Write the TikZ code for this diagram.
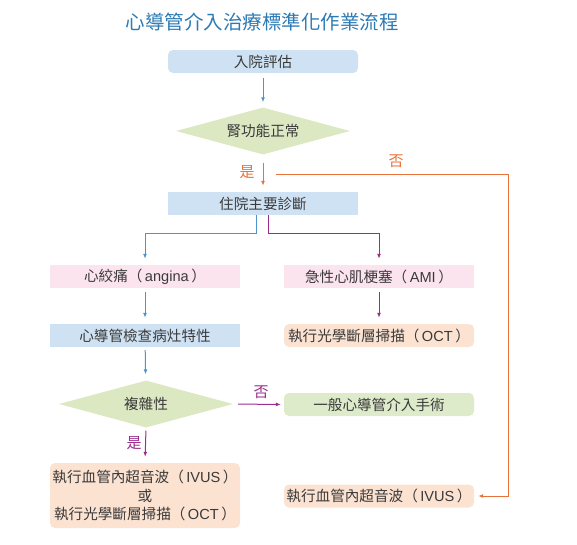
\documentclass[tikz,border=0pt]{standalone}
\usepackage{fontspec}
\setmainfont{Noto Sans CJK TC}
\newfontfamily\lat{Liberation Sans}
\newcommand{\lw}[1]{\hspace{2.5pt}{\lat #1}\hspace{2.5pt}}
\usetikzlibrary{shapes.geometric,arrows.meta}
\definecolor{titleblue}{HTML}{2B7AB4}
\definecolor{boxblue}{HTML}{CFE2F3}
\definecolor{boxpink}{HTML}{FCE4EE}
\definecolor{boxpeach}{HTML}{FBE2D1}
\definecolor{boxgreen}{HTML}{DDEBCB}
\definecolor{diagreen}{HTML}{DCE8C2}
\definecolor{lineblue}{HTML}{4C95CC}
\definecolor{lineorange}{HTML}{E8733A}
\definecolor{linepurple}{HTML}{9B2D8F}
\definecolor{txt}{HTML}{3A3A3A}
\begin{document}
\begin{tikzpicture}[x=1pt,y=-1pt,
  every node/.style={font=\fontsize{14.6}{17}\selectfont, text=txt},
  box/.style={rectangle, minimum width=190pt, minimum height=23pt, inner sep=0pt},
  rbox/.style={box, rounded corners=5pt},
  dia/.style={diamond, aspect=3.7, minimum width=174pt, minimum height=47pt, inner sep=0pt, fill=diagreen},
  conn/.style={line width=1pt, -{Latex[length=5pt,width=4pt]}},
  cb/.style={conn, draw=lineblue},
  co/.style={conn, draw=lineorange},
  cp/.style={conn, draw=linepurple},
  lbl/.style={font=\fontsize{15}{17}\selectfont}
]
\useasboundingbox (0,0) rectangle (577,544);
\node[font=\fontsize{19.5}{22}\selectfont, text=titleblue] (title) at (262,22) {心導管介入治療標準化作業流程};

\node[rbox, fill=boxblue] (eval) at (263,61.5) {入院評估};
\node[dia] (kidney) at (263,131) {腎功能正常};
\node[box, fill=boxblue] (admit) at (263,203.5) {住院主要診斷};
\node[box, fill=boxpink] (angina) at (145,276.5) {心絞痛（\lw{angina}）};
\node[box, fill=boxpink] (ami) at (379,276.5) {急性心肌梗塞（\lw{AMI}）};
\node[box, fill=boxblue] (cath) at (145,335.5) {心導管檢查病灶特性};
\node[rbox, fill=boxpeach] (oct) at (379,335.5) {執行光學斷層掃描（\lw{OCT}）};
\node[dia] (complex) at (146,404) {複雜性};
\node[rbox, fill=boxgreen] (general) at (379,404.5) {一般心導管介入手術};
\node[rbox, fill=boxpeach, minimum height=65pt, align=center, font=\fontsize{14.6}{18.5}\selectfont] (both) at (145,495.5) {執行血管內超音波（\lw{IVUS}）\\或\\執行光學斷層掃描（\lw{OCT}）};
\node[rbox, fill=boxpeach] (ivus) at (379,496) {執行血管內超音波（\lw{IVUS}）};

\draw[cb, shorten <=5pt, shorten >=5pt] (eval) -- (kidney);
\draw[co, shorten <=8pt, shorten >=6pt] (kidney) -- (admit);
\node[lbl, text=lineorange] (yes1) at (247,172) {是};
\coordinate (nostart) at (276,174);
\coordinate (nocorner) at (508,174);
\draw[co] (nostart) -- (nocorner) |- ([xshift=4pt]ivus.east);
\node[lbl, text=lineorange] (no1) at (396,161) {否};

\draw[cb, shorten >=6pt] ([xshift=-7pt]admit.south) -- ++(0,18) -| (angina.north);
\draw[cp, shorten >=6pt] ([xshift=5pt]admit.south) -- ++(0,18) -| (ami.north);

\draw[cb, shorten <=4pt, shorten >=6pt] (angina) -- (cath);
\draw[cp, shorten <=4pt, shorten >=6pt] (ami) -- (oct);
\draw[cb, shorten <=3pt, shorten >=6pt] (cath) -- (complex);

\draw[cp, shorten <=5pt, shorten >=3pt] (complex.east) -- (general.west);
\node[lbl, text=linepurple] (no2) at (261,392) {否};
\draw[cp, shorten <=3pt, shorten >=6pt] (complex.south) -- (both.north);
\node[lbl, text=linepurple] (yes2) at (134,443) {是};
\end{tikzpicture}
\end{document}
